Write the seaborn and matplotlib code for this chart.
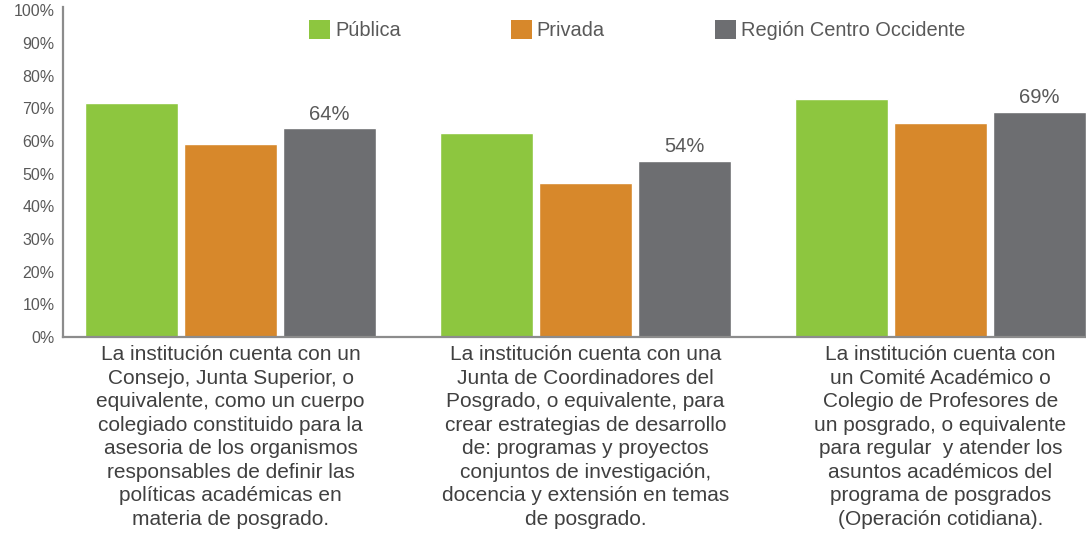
import numpy as np
import pandas as pd
import seaborn as sns
import matplotlib.pyplot as plt
from matplotlib.patches import Patch

# ----- Data -----
categories = [
    "La institución cuenta con un\nConsejo, Junta Superior, o\nequivalente, como un cuerpo\n"
    "colegiado constituido para la\nasesoria de los organismos\nresponsables de definir las\n"
    "políticas académicas en\nmateria de posgrado.",
    "La institución cuenta con una\nJunta de Coordinadores del\nPosgrado, o equivalente, para\n"
    "crear estrategias de desarrollo\nde: programas y proyectos\nconjuntos de investigación,\n"
    "docencia y extensión en temas\nde posgrado.",
    "La institución cuenta con\nun Comité Académico o\nColegio de Profesores de\n"
    "un posgrado, o equivalente\npara regular  y atender los\nasuntos académicos del\n"
    "programa de posgrados\n(Operación cotidiana).",
]
series = ["Pública", "Privada", "Región Centro Occidente"]
publica = [71.5, 62.5, 73.0]
privada = [59.0, 47.0, 65.5]
region = [64, 54, 69]
yticks = [0, 10, 20, 30, 40, 50, 60, 70, 80, 90, 100]

colors = ["#8DC63F", "#D7882B", "#6D6E71"]
text_gray = "#595959"

# ----- Long-form table for seaborn -----
df = pd.DataFrame({
    "grupo": categories * 3,
    "serie": [series[0]] * 3 + [series[1]] * 3 + [series[2]] * 3,
    "valor": publica + privada + region,
})

sns.set_theme(style="white")
plt.rcParams["font.family"] = ["Liberation Sans", "DejaVu Sans"]

fig = plt.figure(figsize=(10.86, 5.36), dpi=100)
ax = fig.add_axes([0.058, 0.371, 0.942, 0.616])

sns.barplot(data=df, x="grupo", y="valor", hue="serie", order=categories,
            hue_order=series, palette=dict(zip(series, colors)),
            width=0.837, gap=0.06, saturation=1, legend=False, ax=ax)

# ----- Value labels only on the regional series -----
ax.bar_label(ax.containers[2], labels=[f"{v:.0f}%" for v in region],
             padding=3, fontsize=14.5, color=text_gray)

# ----- Axes styling -----
ax.set_ylim(0, 101)
ax.set_xlim(-0.472, 2.41)
ax.set_yticks(yticks)
ax.set_yticklabels([f"{t}%" for t in yticks], fontsize=11.5, color=text_gray)
ax.tick_params(axis="x", length=0, pad=6, labelsize=15, labelcolor="#404040")
ax.tick_params(axis="y", length=0, pad=6)
for lbl in ax.get_xticklabels():
    lbl.set_linespacing(1.3)
ax.set_xlabel("")
ax.set_ylabel("")
for side in ["top", "right"]:
    ax.spines[side].set_visible(False)
for side in ["left", "bottom"]:
    ax.spines[side].set_color("#8C8C8C")
    ax.spines[side].set_linewidth(1.6)

# ----- Legend across the top -----
handles = [Patch(facecolor=c, edgecolor="none") for c in colors]
fig.legend(handles, series, loc="upper left", bbox_to_anchor=(309 / 1086, 1 - 20 / 536),
           ncol=3, frameon=False, fontsize=14.4, labelcolor=text_gray,
           handlelength=1.05, handleheight=1.05, handletextpad=0.25,
           columnspacing=5.5, borderpad=0, borderaxespad=0)

fig.savefig("out.png", dpi=100)
